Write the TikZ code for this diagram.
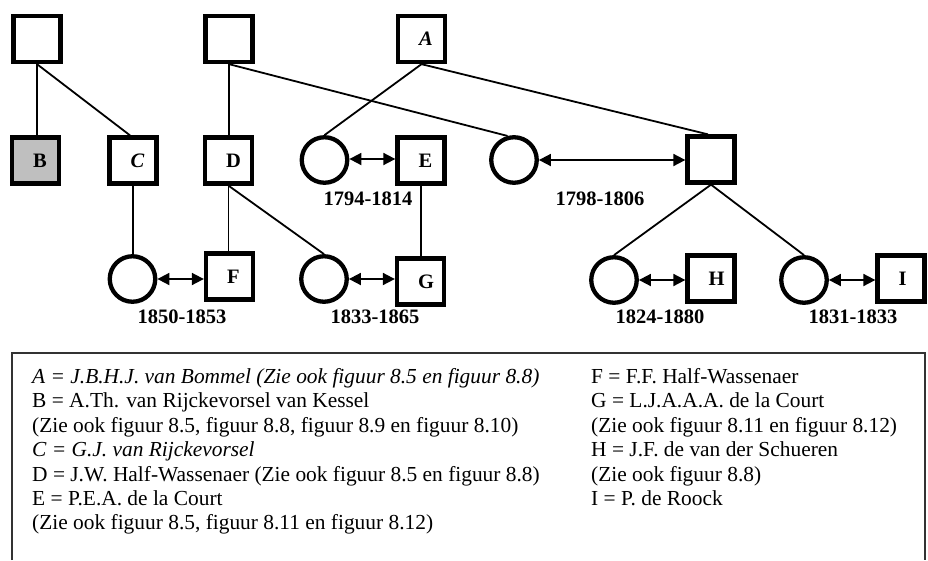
\documentclass[tikz,border=0pt]{standalone}
\usepackage{fontspec}
\setmainfont{Liberation Serif}
\usetikzlibrary{arrows.meta}
\newcommand\sqlbl[1]{\makebox[0pt][l]{\hspace*{-2.5pt}#1}}
\begin{document}
\begin{tikzpicture}[x=1pt,y=-1pt,
  sq/.style={draw, line width=4.3pt, minimum width=47pt, minimum height=46pt, inner sep=0pt, font=\bfseries\fontsize{20.5}{24}\selectfont},
  circ/.style={draw, circle, line width=4.3pt, minimum size=45.5pt, inner sep=0pt},
  conn/.style={line width=1.8pt},
  marr/.style={line width=1.8pt, {Triangle[length=12pt,width=12pt]}-{Triangle[length=12pt,width=12pt]}},
  yr/.style={font=\bfseries\fontsize{20.5}{24}\selectfont, inner sep=0pt},
  leg/.style={anchor=base west, inner sep=0pt, font=\fontsize{21.4}{24.4}\selectfont}
]
\useasboundingbox (0,0) rectangle (928,560);

% top row
\node[sq] (P1) at (37,39) {};
\node[sq] (P2) at (229,39) {};
\node[sq] (A) at (421.5,39) {\sqlbl{\itshape A}};

% second row
\node[sq, fill=gray!50] (B) at (35.5,160.5) {\sqlbl{B}};
\node[sq] (C) at (133,160.5) {\sqlbl{\itshape C}};
\node[sq] (D) at (228.5,160.5) {\sqlbl{D}};
\node[circ] (W1) at (324.5,160) {};
\node[sq] (E) at (421,160.5) {\sqlbl{E}};
\node[circ] (W2) at (514,160) {};
\node[sq] (M) at (711,159.5) {};

% third row
\node[circ] (W3) at (132.5,279) {};
\node[sq] (F) at (229.5,276.5) {\sqlbl{F}};
\node[circ] (W4) at (324,279) {};
\node[sq] (G) at (420.5,281.5) {\sqlbl{G}};
\node[circ] (W5) at (614,280) {};
\node[sq] (H) at (711,278.5) {\sqlbl{H}};
\node[circ] (W6) at (804,280) {};
\node[sq] (I) at (901,278.5) {\sqlbl{I}};

% descent lines
\draw[conn] (P1.south) -- (P1.south |- B.north);
\draw[conn] (P1.south) -- ([xshift=-3pt]C.north);
\draw[conn] (C.south) -- (C.south |- W3.north);
\draw[conn] (P2.south) -- (P2.south |- D.north);
\draw[conn] (P2.south) -- (W2.105);
\draw[conn] (A.south) -- (W1.north);
\draw[conn] (A.south) -- ([xshift=-3pt]M.north);
\draw[conn] (E.south) -- (E.south |- G.north);
\draw[conn] (D.south) -- (D.south |- F.north);
\draw[conn] (D.south) -- (W4.north);
\draw[conn] (M.south) -- (W5.north);
\draw[conn] (M.south) -- (W6.north);

% marriages
\draw[marr] ([yshift=1pt]W1.east) -- ([yshift=1pt]W1.east -| E.west);
\draw[marr] (W2.east) -- (W2.east -| M.west);
\draw[marr] (W3.east) -- (W3.east -| F.west);
\draw[marr] (W4.east) -- (W4.east -| G.west);
\draw[marr] (W5.east) -- (W5.east -| H.west);
\draw[marr] (W6.east) -- (W6.east -| I.west);

% years
\node[yr] (y1) at (368,199) {1794-1814};
\node[yr] (y2) at (600,199) {1798-1806};
\node[yr] (y3) at (182,317) {1850-1853};
\node[yr] (y4) at (375,317) {1833-1865};
\node[yr] (y5) at (660,317) {1824-1880};
\node[yr] (y6) at (853,317) {1831-1833};

% legend box
\draw[line width=1.2pt, black!80] (12,560) -- (12,353) -- (925,353) -- (925,560);

\node[leg] (l1) at (32,383.5) {\itshape A = J.B.H.J. van Bommel (Zie ook figuur 8.5 en figuur 8.8)};
\node[leg] (l2) at (32,407.9) {B = A.Th. van Rijckevorsel van Kessel};
\node[leg] (l3) at (32,432.3) {(Zie ook figuur 8.5, figuur 8.8, figuur 8.9 en figuur 8.10)};
\node[leg] (l4) at (32,456.7) {\itshape C = G.J. van Rijckevorsel};
\node[leg] (l5) at (32,481.1) {D = J.W. Half-Wassenaer (Zie ook figuur 8.5 en figuur 8.8)};
\node[leg] (l6) at (32,505.5) {E = P.E.A. de la Court};
\node[leg] (l7) at (32,529.9) {(Zie ook figuur 8.5, figuur 8.11 en figuur 8.12)};

\node[leg] (r1) at (591,383.5) {F = F.F. Half-Wassenaer};
\node[leg] (r2) at (591,407.9) {G = L.J.A.A.A. de la Court};
\node[leg] (r3) at (591,432.3) {(Zie ook figuur 8.11 en figuur 8.12)};
\node[leg] (r4) at (591,456.7) {H = J.F. de van der Schueren};
\node[leg] (r5) at (591,481.1) {(Zie ook figuur 8.8)};
\node[leg] (r6) at (591,505.5) {I = P. de Roock};
\end{tikzpicture}
\end{document}
